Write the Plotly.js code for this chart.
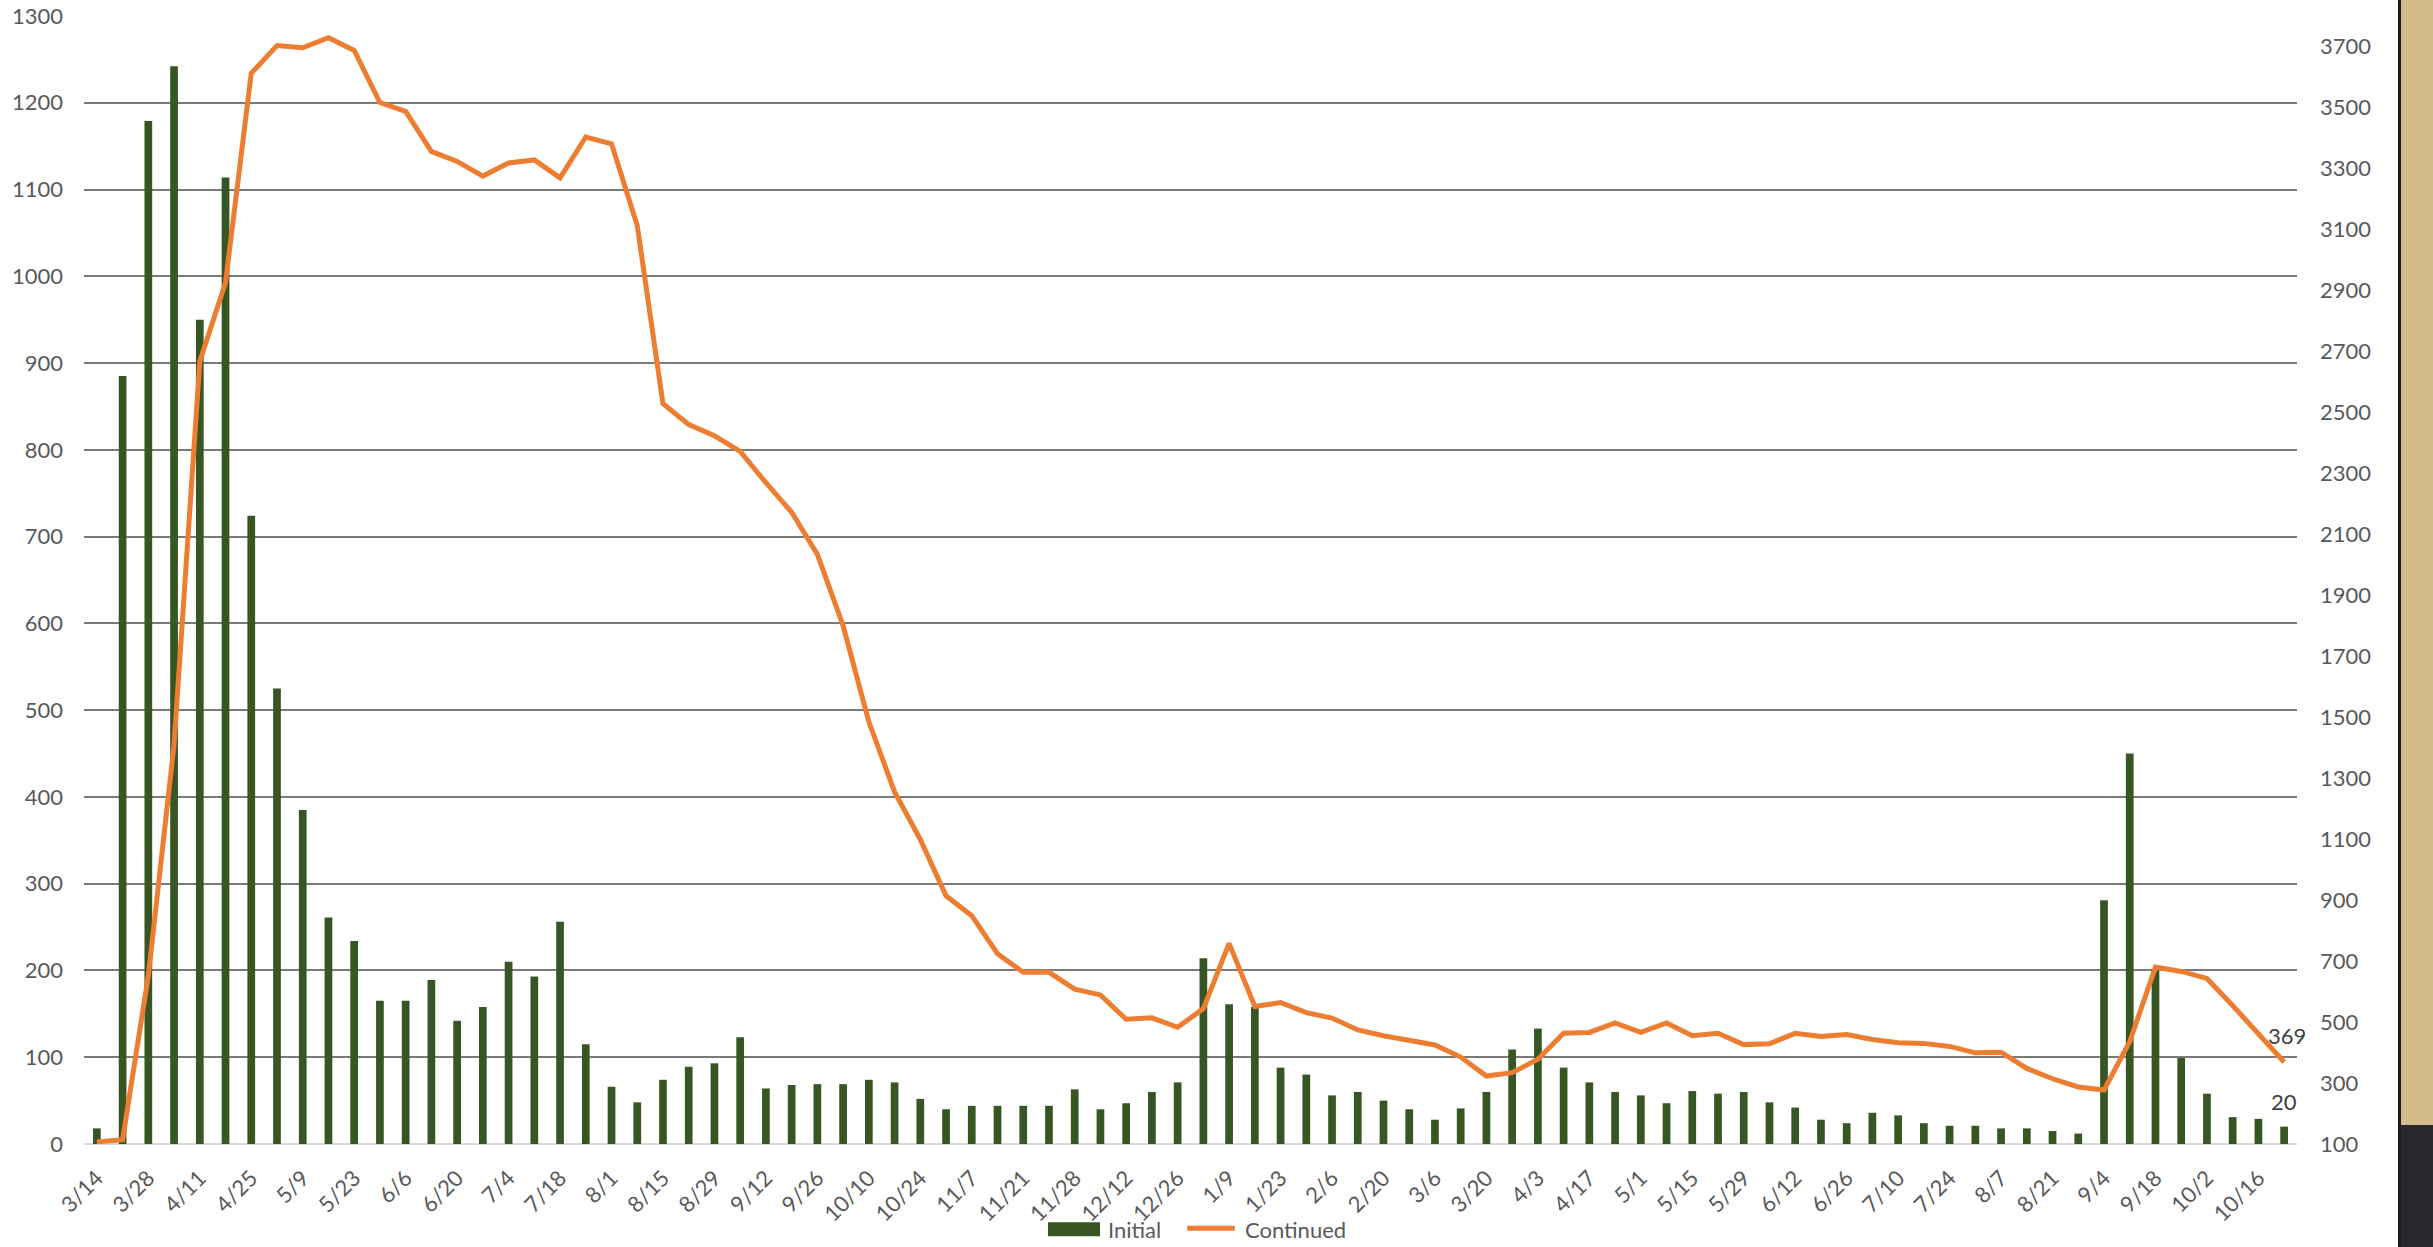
<!DOCTYPE html>
<html>
<head>
<meta charset="utf-8">
<script src="https://cdn.plot.ly/plotly-3.0.1.min.js"></script>
<style>
  html, body { margin: 0; padding: 0; background: #ffffff; overflow: hidden; }
  #chart { position: absolute; left: 0; top: 0; width: 2433px; height: 1247px; }
  #side { position: absolute; left: 2398px; top: 0; width: 35px; height: 1247px; background: #26282b; border-left: 3px solid #1c1c1c; box-sizing: border-box; }
  #tan { position: absolute; left: 0; top: 0; width: 100%; height: 1125px; background: #d4ba8b; }
</style>
</head>
<body>
<div id="chart"></div>
<div id="side"><div id="tan"></div></div>
<script>
// Week-ending dates (categories)
const weeks = [
  "3/14","3/21","3/28","4/4","4/11","4/18","4/25","5/2","5/9","5/16",
  "5/23","5/30","6/6","6/13","6/20","6/27","7/4","7/11","7/18","7/25",
  "8/1","8/8","8/15","8/22","8/29","9/5","9/12","9/19","9/26","10/3",
  "10/10","10/17","10/24","10/31","11/7","11/14","11/21","11/24","11/28","12/5",
  "12/12","12/19","12/26","1/2","1/9","1/16","1/23","1/30","2/6","2/13",
  "2/20","2/27","3/6","3/13","3/20","3/27","4/3","4/10","4/17","4/24",
  "5/1","5/8","5/15","5/22","5/29","6/5","6/12","6/19","6/26","7/3",
  "7/10","7/17","7/24","7/31","8/7","8/14","8/21","8/28","9/4","9/11",
  "9/18","9/25","10/2","10/9","10/16","10/23"
];

// Labels shown on the category axis
const tickLabels = [
  "3/14","3/28","4/11","4/25","5/9","5/23","6/6","6/20","7/4","7/18",
  "8/1","8/15","8/29","9/12","9/26","10/10","10/24","11/7","11/21","11/28",
  "12/12","12/26","1/9","1/23","2/6","2/20","3/6","3/20","4/3","4/17",
  "5/1","5/15","5/29","6/12","6/26","7/10","7/24","8/7","8/21","9/4",
  "9/18","10/2","10/16"
];

// Initial claims (left axis)
const initial = [
  18, 885, 1179, 1242, 950, 1114, 724, 525, 385, 261,
  234, 165, 165, 189, 142, 158, 210, 193, 256, 115,
  66, 48, 74, 89, 93, 123, 64, 68, 69, 69,
  74, 71, 52, 40, 44, 44, 44, 44, 63, 40,
  47, 60, 71, 214, 161, 158, 88, 80, 56, 60,
  50, 40, 28, 41, 60, 109, 133, 88, 71, 60,
  56, 47, 61, 58, 60, 48, 42, 28, 24, 36,
  33, 24, 21, 21, 18, 18, 15, 12, 281, 450,
  200, 99, 58, 31, 29, 20
];

// Continued claims (right axis)
const continued = [
  107, 114, 652, 1410, 2667, 2926, 3612, 3703, 3696, 3729,
  3687, 3516, 3487, 3356, 3323, 3275, 3318, 3328, 3269, 3403,
  3381, 3113, 2528, 2460, 2423, 2372, 2269, 2172, 2034, 1800,
  1485, 1255, 1099, 914, 849, 724, 663, 663, 608, 589,
  509, 514, 483, 544, 758, 551, 564, 531, 513, 474,
  455, 439, 425, 385, 323, 334, 378, 463, 466, 497,
  466, 497, 455, 463, 426, 429, 463, 453, 459, 443,
  432, 430, 420, 399, 401, 348, 314, 287, 277, 436,
  680, 666, 643, 554, 460, 369
];

const leftTicks = [0,100,200,300,400,500,600,700,800,900,1000,1100,1200,1300];
const rightTicks = [100,300,500,700,900,1100,1300,1500,1700,1900,2100,2300,2500,2700,2900,3100,3300,3500,3700];

const FONT = "Lato, 'Open Sans', sans-serif";
const GREEN = "#375623";
const ORANGE = "#ED7D31";
const GREY = "#595959";

const last = weeks.length - 1;

const traces = [
  {
    type: "bar",
    name: "Initial",
    x: weeks,
    y: initial,
    marker: { color: GREEN },
    yaxis: "y",
    hoverinfo: "x+y"
  },
  {
    type: "scatter",
    mode: "lines",
    name: "Continued",
    x: weeks,
    y: continued,
    yaxis: "y2",
    line: { color: ORANGE, width: 5 },
    hoverinfo: "x+y"
  }
];

const layout = {
  width: 2433,
  height: 1247,
  margin: { l: 84, r: 136, t: 16, b: 103 },
  paper_bgcolor: "#ffffff",
  plot_bgcolor: "#ffffff",
  showlegend: false,
  bargap: 0.7,
  font: { family: FONT, size: 22, color: GREY },
  xaxis: {
    type: "category",
    categoryorder: "array",
    categoryarray: weeks,
    range: [-0.5, weeks.length - 0.5],
    tickmode: "array",
    tickvals: tickLabels,
    ticktext: tickLabels,
    tickangle: -45,
    ticks: "",
    showgrid: false,
    showline: false,
    zeroline: false,
    ticklabelstandoff: 16,
    tickfont: { family: FONT, size: 22, color: GREY }
  },
  yaxis: {
    range: [0, 1300],
    tickmode: "array",
    tickvals: leftTicks,
    ticktext: leftTicks.map(String),
    ticks: "",
    showgrid: true,
    gridcolor: "#7a7a7a",
    gridwidth: 2,
    zeroline: true,
    zerolinecolor: "#d9d9d9",
    zerolinewidth: 2,
    showline: false,
    ticklabelstandoff: 20,
    tickfont: { family: FONT, size: 22, color: GREY }
  },
  yaxis2: {
    overlaying: "y",
    side: "right",
    range: [100, 3800],
    tickmode: "array",
    tickvals: rightTicks,
    ticktext: rightTicks.map(String),
    ticks: "",
    showgrid: false,
    zeroline: false,
    showline: false,
    ticklabelstandoff: 22,
    tickfont: { family: FONT, size: 22, color: GREY }
  },
  annotations: [
    {
      x: weeks[last], y: continued[last], xref: "x", yref: "y2",
      text: String(continued[last]), showarrow: false,
      xanchor: "center", yanchor: "middle", yshift: 26, xshift: 3,
      font: { family: FONT, size: 22, color: "#404040" }
    },
    {
      x: weeks[last], y: initial[last], xref: "x", yref: "y",
      text: String(initial[last]), showarrow: false,
      xanchor: "center", yanchor: "middle", yshift: 25,
      font: { family: FONT, size: 22, color: "#404040" }
    },
    {
      x: 0.4618, y: -0.0755, xref: "paper", yref: "paper",
      text: "Initial", showarrow: false, xanchor: "left", yanchor: "middle",
      font: { family: FONT, size: 22, color: GREY }
    },
    {
      x: 0.5237, y: -0.0755, xref: "paper", yref: "paper",
      text: "Continued", showarrow: false, xanchor: "left", yanchor: "middle",
      font: { family: FONT, size: 22, color: GREY }
    }
  ],
  shapes: [
    {
      type: "rect", xref: "paper", yref: "paper",
      x0: 0.4356, x1: 0.4591, y0: -0.0817, y1: -0.0693,
      fillcolor: GREEN, line: { width: 0 }
    },
    {
      type: "line", xref: "paper", yref: "paper",
      x0: 0.4985, x1: 0.5200, y0: -0.0746, y1: -0.0746,
      line: { color: ORANGE, width: 5 }
    }
  ]
};

Plotly.newPlot("chart", traces, layout, { staticPlot: true, displayModeBar: false });
</script>
</body>
</html>
